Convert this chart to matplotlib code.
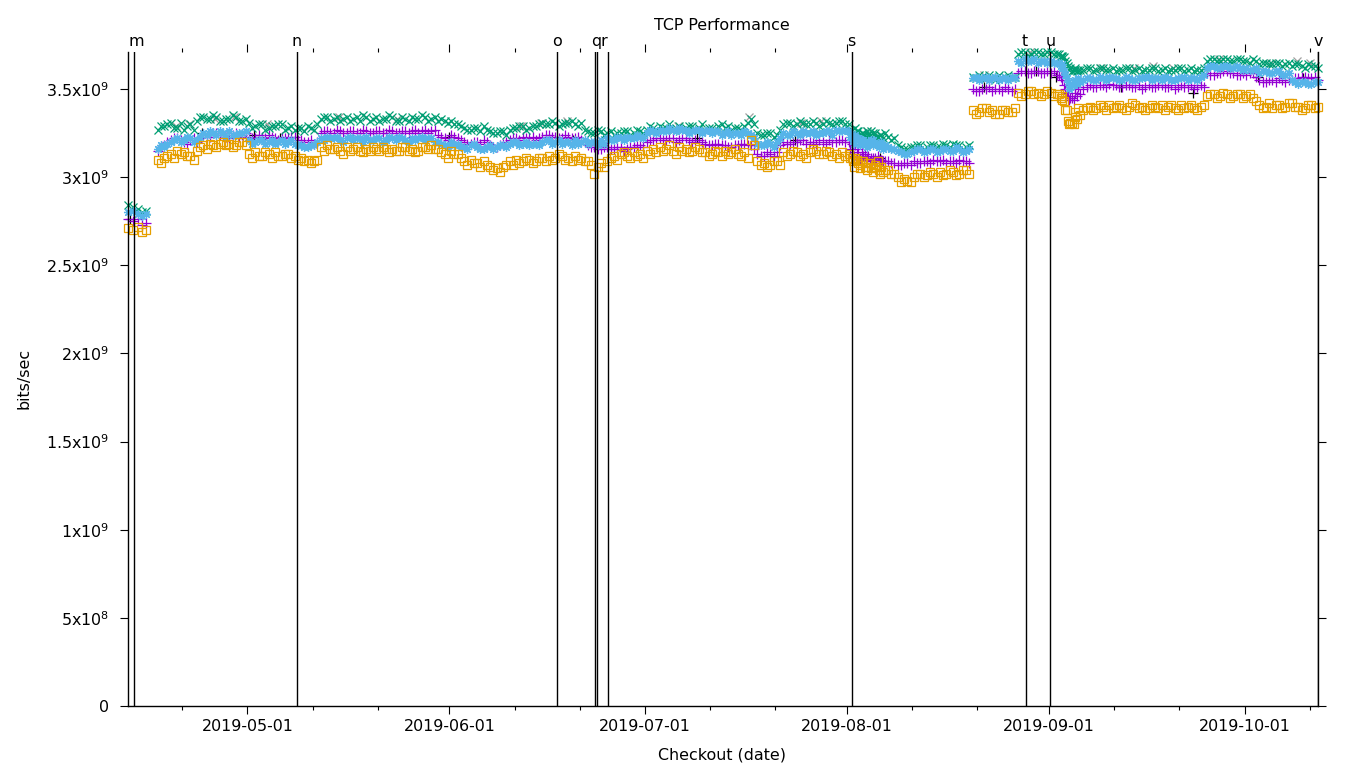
import numpy as np
import pandas as pd
import matplotlib
matplotlib.use("Agg")
import matplotlib.pyplot as plt
import matplotlib.dates as mdates

plt.rcParams['font.family'] = ['DejaVu Sans']
FS = 11.4
UNIT = 1e7  # values below are in units of 10 Mbit/s

# ---------------- data ----------------
# first short run of checkouts
seg1_dates = ['2019-04-12 16:40', '2019-04-13 10:00', '2019-04-14 04:00',
              '2019-04-14 20:00', '2019-04-15 12:00']
seg1_purple = [276, 275, 276, 273, 274]
seg1_green = [284, 283, 282, 280, 281]
seg1_blue = [280, 281, 279, 278, 279]
seg1_orange = [271, 270, 272, 269, 270]

# morning run, daily 2019-04-17 .. 2019-10-12
run1_start, run1_end = '2019-04-17 06:00', '2019-10-12 06:00'

green_apr = [327, 329, 331, 328, 327, 330, 332, 334, 333, 334, 332, 333, 334, 332]
blue_apr = [316, 317, 320, 322, 321, 322, 321, 325, 326, 324, 325, 326, 324, 325]
purple_apr = [315, 318, 321, 322, 320, 321, 320, 324, 323, 325, 324, 322, 325, 324]
orange_apr = [310, 311, 313, 315, 314, 312, 315, 318, 319, 317, 320, 319, 318, 320]

green_may = [331, 329, 330, 328, 329, 330, 328, 327, 328, 329,
             327, 333, 334, 333, 332, 334, 333, 332, 334, 333,
             332, 333, 334, 332, 333, 334, 333, 334, 333, 332, 332]
blue_may = [321, 320, 321, 320, 319, 321, 320, 319, 318, 317,
            318, 322, 323, 322, 321, 322, 321, 322, 323, 321,
            322, 321, 322, 323, 321, 322, 322, 321, 322, 320, 318]
purple_may = [323, 322, 323, 324, 322, 323, 322, 323, 321, 320,
              319, 325, 326, 325, 326, 325, 326, 325, 326, 325,
              326, 325, 326, 325, 326, 326, 325, 327, 326, 324, 322]
orange_may = [313, 314, 312, 313, 314, 312, 313, 312, 311, 310,
              309, 317, 318, 316, 315, 317, 316, 315, 316, 317,
              315, 316, 316, 315, 317, 316, 315, 317, 318, 316, 313]

green_jun = [332, 330, 328, 327, 328, 329, 326, 325, 326, 327,
             328, 329, 328, 329, 331, 330, 331, 330, 331, 330,
             331, 326, 325, 326, 325, 324, 325, 326, 325, 326]
blue_jun = [320, 319, 317, 318, 317, 316, 318, 317, 318, 319,
            320, 319, 318, 319, 320, 321, 320, 319, 320, 321,
            320, 319, 320, 321, 322, 321, 322, 323, 322, 323]
purple_jun = [324, 322, 320, 319, 320, 321, 318, 317, 319, 321,
              322, 323, 322, 321, 323, 324, 323, 322, 323, 322,
              321, 318, 317, 316, 317, 316, 317, 316, 317, 318]
orange_jun = [315, 313, 309, 310, 308, 309, 306, 305, 306, 309,
              310, 309, 310, 309, 311, 312, 311, 312, 311, 312,
              311, 309, 302, 308, 309, 312, 313, 312, 314, 313]

green_jul = [327, 328, 329, 328, 327, 329, 328, 329, 328, 327,
             328, 329, 328, 327, 328, 329, 333, 325, 324, 325,
             324, 330, 331, 330, 331, 330, 331, 330, 331, 331, 332]
blue_jul = [325, 326, 327, 326, 327, 328, 327, 326, 327, 326,
            325, 326, 325, 324, 325, 326, 324, 319, 318, 319,
            320, 325, 324, 325, 326, 325, 324, 325, 326, 327, 326]
purple_jul = [320, 321, 322, 321, 322, 321, 322, 320, 321, 319,
              318, 319, 318, 317, 318, 319, 318, 313, 312, 313,
              314, 320, 319, 320, 321, 320, 319, 320, 321, 320, 321]
orange_jul = [315, 316, 317, 316, 315, 317, 316, 315, 316, 314,
              313, 314, 315, 314, 313, 314, 321, 309, 308, 307,
              309, 314, 313, 314, 313, 314, 315, 313, 314, 313, 314]

green_aug = [330, 328, 325, 324, 325, 324, 323, 322, 317, 316,
             317, 318, 317, 318, 317, 318, 319, 318, 317,
             357, 358, 356, 357, 358, 357, 356,
             370, 371, 370, 371, 370]
blue_aug = [326, 324, 321, 320, 319, 320, 317, 316, 314, 313,
            315, 316, 315, 316, 315, 316, 315, 316, 315,
            356, 355, 357, 356, 355, 356, 357,
            366, 367, 366, 365, 366]
purple_aug = [320, 318, 314, 312, 311, 310, 309, 308, 307, 308,
              309, 308, 309, 310, 309, 308, 309, 310, 309,
              350, 349, 350, 349, 350, 351, 349,
              359, 360, 359, 360, 359]
orange_aug = [313, 311, 309, 308, 307, 306, 304, 302, 297, 298,
              300, 302, 301, 302, 303, 302, 303, 302, 304,
              338, 337, 339, 338, 336, 338, 337,
              348, 347, 349, 348, 347]

green_sep = [371, 370, 368, 362, 360, 361, 362, 361, 362, 361,
             360, 361, 362, 361, 360, 361, 362, 361, 360, 361,
             362, 361, 360, 361, 366, 367, 366, 367, 366, 367]
blue_sep = [366, 365, 360, 351, 353, 355, 356, 355, 356, 357,
            356, 355, 356, 355, 356, 357, 356, 355, 356, 355,
            356, 355, 356, 357, 362, 363, 362, 363, 362, 362]
purple_sep = [359, 358, 352, 345, 346, 350, 352, 351, 352, 353,
              352, 351, 352, 351, 350, 352, 351, 352, 351, 350,
              352, 351, 350, 352, 359, 358, 359, 360, 359, 358]
orange_sep = [348, 347, 343, 331, 333, 338, 340, 339, 340, 341,
              340, 339, 340, 341, 340, 339, 340, 341, 340, 339,
              341, 340, 339, 340, 346, 347, 346, 347, 346, 347]

green_oct = [366, 367, 364, 365, 364, 365, 364, 363, 364, 362, 363, 362]
blue_oct = [362, 361, 359, 360, 359, 360, 358, 355, 353, 354, 353, 354]
purple_oct = [358, 359, 355, 354, 355, 356, 354, 355, 356, 357, 356, 355]
orange_oct = [346, 345, 341, 340, 339, 341, 340, 342, 340, 339, 341, 340]

# evening run, daily 2019-04-17 .. 2019-10-11
run2_start, run2_end = '2019-04-17 18:00', '2019-10-11 18:00'

green2_apr = [329, 330, 328, 331, 329, 327, 334, 333, 335, 332, 333, 335, 332, 333]
green2_may = [328, 330, 327, 329, 330, 327, 329, 328, 326, 328,
              330, 334, 332, 334, 333, 332, 334, 335, 332, 334,
              333, 335, 332, 334, 332, 333, 335, 332, 334, 333, 331]
green2_jun = [330, 329, 327, 328, 326, 327, 325, 326, 324, 328,
              329, 327, 329, 330, 330, 332, 329, 331, 332, 329,
              327, 325, 327, 324, 326, 325, 326, 324, 327, 325]
green2_jul = [329, 327, 328, 330, 328, 327, 329, 327, 330, 328,
              327, 330, 329, 328, 327, 331, 330, 324, 325, 323,
              327, 331, 329, 332, 330, 332, 329, 332, 330, 332, 330]
green2_aug = [327, 326, 324, 326, 323, 325, 321, 318, 316, 317,
              318, 316, 318, 317, 319, 317, 318, 316, 318,
              356, 357, 358, 355, 356, 358, 357,
              371, 369, 371, 370, 371]
green2_sep = [370, 369, 365, 361, 361, 362, 360, 362, 361, 362,
              361, 362, 360, 362, 361, 362, 360, 362, 361, 362,
              360, 362, 361, 362, 367, 366, 367, 366, 367, 366]
green2_oct = [365, 366, 365, 364, 365, 363, 365, 364, 363, 364, 363]

blue2_apr = [318, 319, 321, 320, 323, 320, 323, 324, 325, 326, 323, 324, 325, 326]
blue2_may = [319, 321, 319, 321, 320, 319, 321, 318, 317, 318,
             320, 321, 322, 323, 320, 323, 322, 320, 321, 322,
             320, 323, 321, 322, 320, 321, 323, 322, 320, 319, 317]
blue2_jun = [318, 317, 316, 319, 316, 317, 316, 318, 317, 320,
             318, 320, 319, 318, 321, 319, 321, 320, 318, 319,
             321, 320, 318, 319, 321, 323, 321, 322, 324, 322]
blue2_jul = [327, 325, 326, 328, 326, 327, 325, 327, 325, 327,
             326, 324, 326, 325, 324, 325, 322, 318, 320, 317,
             322, 324, 326, 324, 325, 326, 325, 326, 324, 326, 327]
blue2_aug = [324, 322, 319, 321, 318, 318, 316, 315, 313, 314,
             316, 314, 316, 314, 316, 315, 317, 314, 316,
             357, 356, 355, 357, 356, 355, 356,
             365, 366, 367, 366, 365]
blue2_sep = [365, 363, 356, 352, 354, 356, 355, 357, 355, 356,
             355, 357, 355, 356, 357, 355, 356, 357, 355, 356,
             357, 356, 355, 358, 363, 362, 363, 362, 363, 361]
blue2_oct = [361, 362, 360, 359, 360, 358, 359, 354, 354, 353, 354]

purple2_apr = [317, 320, 322, 321, 319, 322, 322, 323, 325, 324, 323, 324, 323, 325]
purple2_may = [322, 324, 322, 323, 321, 322, 323, 321, 320, 321,
               320, 326, 325, 327, 325, 326, 325, 327, 325, 326,
               325, 327, 325, 326, 325, 327, 326, 325, 327, 323, 321]
purple2_jun = [323, 321, 319, 320, 319, 320, 317, 318, 320, 322,
               321, 322, 323, 322, 324, 323, 322, 324, 322, 323,
               320, 317, 316, 317, 316, 317, 315, 317, 318, 317]
purple2_jul = [321, 322, 321, 322, 320, 322, 321, 321, 320, 318,
               319, 318, 317, 318, 319, 318, 316, 312, 314, 312,
               318, 319, 320, 321, 319, 320, 321, 319, 320, 321, 320]
purple2_aug = [319, 316, 313, 311, 312, 309, 308, 307, 308, 307,
               308, 309, 308, 309, 310, 309, 308, 309, 308,
               349, 350, 351, 350, 349, 350, 350,
               360, 359, 360, 359, 360]
purple2_sep = [360, 357, 348, 344, 347, 351, 351, 352, 351, 352,
               351, 352, 351, 352, 351, 351, 352, 351, 352, 351,
               351, 352, 351, 351, 358, 359, 360, 359, 358, 359]
purple2_oct = [359, 357, 354, 355, 354, 355, 355, 356, 357, 356, 357]

orange2_apr = [308, 312, 311, 313, 312, 310, 317, 316, 318, 319, 318, 317, 320, 318]
orange2_may = [311, 312, 314, 311, 312, 313, 311, 310, 309, 308,
               310, 315, 316, 317, 313, 315, 317, 314, 315, 316,
               317, 314, 315, 317, 315, 314, 317, 316, 316, 314, 311]
orange2_jun = [313, 311, 307, 308, 306, 307, 304, 303, 307, 307,
               308, 311, 308, 311, 309, 310, 313, 310, 309, 310,
               309, 307, 306, 306, 311, 310, 314, 311, 312, 311]
orange2_jul = [313, 314, 315, 318, 313, 315, 314, 317, 314, 312,
               315, 312, 313, 316, 312, 311, 318, 307, 306, 309,
               307, 312, 315, 312, 311, 316, 313, 315, 312, 311, 312]
orange2_aug = [311, 308, 306, 305, 309, 304, 302, 300, 299, 297,
               302, 300, 303, 300, 301, 304, 301, 304, 302,
               336, 339, 337, 336, 338, 337, 339,
               346, 349, 347, 346, 349]
orange2_sep = [346, 345, 338, 330, 335, 339, 338, 341, 338, 339,
               341, 338, 342, 339, 338, 341, 339, 338, 341, 338,
               339, 341, 338, 341, 347, 345, 348, 345, 347, 345]
orange2_oct = [347, 343, 339, 342, 341, 339, 342, 340, 338, 341, 339]

# extra checkouts during busy periods
burst_dates = ['2019-08-01 12:00', '2019-08-01 22:00', '2019-08-02 00:00', '2019-08-02 12:00',
               '2019-08-02 22:00', '2019-08-03 00:00', '2019-08-03 12:00', '2019-08-03 22:00',
               '2019-08-04 00:00', '2019-08-04 12:00', '2019-08-04 22:00', '2019-08-05 00:00',
               '2019-08-05 12:00', '2019-08-05 22:00', '2019-08-06 00:00', '2019-08-06 12:00',
               '2019-09-02 12:00', '2019-09-02 22:00', '2019-09-03 00:00', '2019-09-03 12:00',
               '2019-09-03 22:00', '2019-09-04 00:00', '2019-09-04 12:00', '2019-09-04 22:00',
               '2019-09-05 00:00', '2019-09-05 12:00']
burst_green = [327, 325, 323, 326, 324, 322, 325, 323, 326, 324, 322, 325, 323, 321, 324, 322,
               370, 369, 368, 366, 363, 361, 360, 361, 362, 361]
burst_blue = [323, 321, 319, 322, 320, 318, 321, 319, 317, 320, 318, 321, 319, 317, 318, 316,
              365, 364, 362, 358, 354, 350, 352, 354, 355, 356]
burst_purple = [316, 314, 312, 313, 311, 310, 312, 310, 311, 309, 310, 311, 309, 310, 308, 309,
                358, 357, 355, 350, 346, 344, 345, 348, 350, 351]
burst_orange = [311, 309, 306, 310, 307, 305, 309, 306, 304, 308, 305, 303, 306, 304, 302, 303,
                347, 346, 344, 338, 332, 330, 331, 334, 337, 339]

# secondary series (mostly hidden behind the others)
gray_dates = ['2019-04-20', '2019-04-22', '2019-04-26', '2019-04-29', '2019-05-04',
              '2019-05-15', '2019-05-24', '2019-06-12', '2019-06-15', '2019-06-19',
              '2019-07-06', '2019-07-17', '2019-07-25', '2019-07-28', '2019-08-04',
              '2019-08-22', '2019-08-29', '2019-09-09', '2019-09-14', '2019-09-17',
              '2019-09-20', '2019-09-27', '2019-10-05', '2019-10-09', '2019-10-11']
gray_vals = [329, 330, 333, 334, 330, 334, 333, 329, 331, 332, 329, 334, 331, 332, 326,
             358, 371, 362, 362, 363, 362, 367, 365, 366, 365]
black_dates = ['2019-04-13', '2019-04-24', '2019-05-02', '2019-05-06', '2019-06-01',
               '2019-06-20', '2019-07-09', '2019-07-24', '2019-08-06', '2019-08-22',
               '2019-08-30', '2019-09-02', '2019-09-12', '2019-09-23', '2019-10-03',
               '2019-10-10']
black_vals = [276, 325, 324, 322, 323, 321, 322, 321, 311, 351, 360, 357, 351, 348, 357, 356]

# events
event_dates = ['2019-04-13 14:40', '2019-05-08 15:00', '2019-06-17 12:30', '2019-06-23 08:00',
               '2019-06-23 14:00', '2019-06-25 06:30', '2019-08-01 17:00', '2019-08-28 12:00',
               '2019-09-01 05:00', '2019-10-12 05:00']
event_labels = ['m', 'n', 'o', '', 'q', 'r', 's', 't', 'u', 'v']
event_label_dx = [1.5, 0, 0, 0, 0, -2.5, 0, -1, 0, 0]   # points

ytick_vals = [0, 5e8, 1e9, 1.5e9, 2e9, 2.5e9, 3e9, 3.5e9]
ytick_labels = ['0', '5x10$^{8}$', '1x10$^{9}$', '1.5x10$^{9}$', '2x10$^{9}$',
                '2.5x10$^{9}$', '3x10$^{9}$', '3.5x10$^{9}$']
y_max = 3.71e9

# ---------------- assemble ----------------
run1 = pd.date_range(run1_start, run1_end, freq='D')
run2 = pd.date_range(run2_start, run2_end, freq='D')
x_all = np.concatenate([pd.to_datetime(seg1_dates).values, run1.values, run2.values,
                        pd.to_datetime(burst_dates).values])


def build(seg1, months1, months2, burst):
    vals = list(seg1)
    for m in months1:
        vals += m
    assert len(vals) == len(seg1) + len(run1)
    for m in months2:
        vals += m
    vals += burst
    assert len(vals) == len(x_all), (len(vals), len(x_all))
    return np.array(vals) * UNIT


purple = build(seg1_purple,
               [purple_apr, purple_may, purple_jun, purple_jul, purple_aug, purple_sep, purple_oct],
               [purple2_apr, purple2_may, purple2_jun, purple2_jul, purple2_aug, purple2_sep,
                purple2_oct], burst_purple)
green = build(seg1_green,
              [green_apr, green_may, green_jun, green_jul, green_aug, green_sep, green_oct],
              [green2_apr, green2_may, green2_jun, green2_jul, green2_aug, green2_sep,
               green2_oct], burst_green)
blue = build(seg1_blue,
             [blue_apr, blue_may, blue_jun, blue_jul, blue_aug, blue_sep, blue_oct],
             [blue2_apr, blue2_may, blue2_jun, blue2_jul, blue2_aug, blue2_sep,
              blue2_oct], burst_blue)
orange = build(seg1_orange,
               [orange_apr, orange_may, orange_jun, orange_jul, orange_aug, orange_sep, orange_oct],
               [orange2_apr, orange2_may, orange2_jun, orange2_jul, orange2_aug, orange2_sep,
                orange2_oct], burst_orange)

# ---------------- plot ----------------
fig = plt.figure(figsize=(13.6, 7.68), dpi=100)
ax = fig.add_axes([128 / 1360, 1 - 706 / 768, 1190 / 1360, 654 / 768])

mew = 0.9
ax.plot(pd.to_datetime(gray_dates), np.array(gray_vals) * UNIT, ls='none', marker='x',
        ms=6, mew=mew, color='#a0a0a0', clip_on=False)
ax.plot(pd.to_datetime(black_dates), np.array(black_vals) * UNIT, ls='none', marker='+',
        ms=7, mew=mew, color='black', clip_on=False)
ax.plot(x_all, purple, ls='none', marker='+', ms=7, mew=mew, color='#9400d3', clip_on=False)
ax.plot(x_all, green, ls='none', marker='x', ms=6, mew=mew, color='#009e73', clip_on=False)
ax.plot(x_all, blue, ls='none', marker=(8, 2, 0), ms=6.5, mew=mew, color='#56b4e9', clip_on=False)
ax.plot(x_all, orange, ls='none', marker='s', ms=5.6, mew=mew, mfc='none', mec='#e69f00',
        clip_on=False)

xmin = x_all.min()
xmax = x_all.max()
ax.set_xlim(xmin, xmax)
ax.set_ylim(0, y_max)

for d, lab, dx in zip(pd.to_datetime(event_dates), event_labels, event_label_dx):
    ax.axvline(d, color='black', lw=1.0, zorder=5)
    if lab:
        ax.annotate(lab, xy=(mdates.date2num(d), 1.0), xycoords=('data', 'axes fraction'),
                    xytext=(dx, 4.3), textcoords='offset points', ha='center', va='baseline',
                    fontsize=FS, annotation_clip=False)

ax.spines['top'].set_visible(False)
for s in ['left', 'right', 'bottom']:
    ax.spines[s].set_linewidth(1.0)

ax.xaxis.set_major_locator(mdates.MonthLocator())
ax.xaxis.set_minor_locator(mdates.DayLocator(bymonthday=[11, 21]))
ax.xaxis.set_major_formatter(mdates.DateFormatter('%Y-%m-%d'))
ax.tick_params(axis='x', which='major', direction='out', length=5.5, width=0.8,
               top=True, bottom=True, labelsize=FS, pad=4)
ax.tick_params(axis='x', which='minor', direction='out', length=3, width=0.8,
               top=True, bottom=True)
ax.set_yticks(ytick_vals)
ax.set_yticklabels(ytick_labels)
ax.tick_params(axis='y', direction='out', length=5.5, width=0.8, left=True, right=True,
               labelsize=FS, pad=8)

fig.text(722 / 1360, 1 - 30 / 768, 'TCP Performance', ha='center', va='baseline', fontsize=FS)
fig.text(722 / 1360, 1 - 759 / 768, 'Checkout (date)', ha='center', va='baseline', fontsize=FS)
fig.text(24 / 1360, 1 - 378 / 768, 'bits/sec', ha='center', va='center', rotation=90,
         fontsize=FS)

fig.savefig('out.png', dpi=100)
